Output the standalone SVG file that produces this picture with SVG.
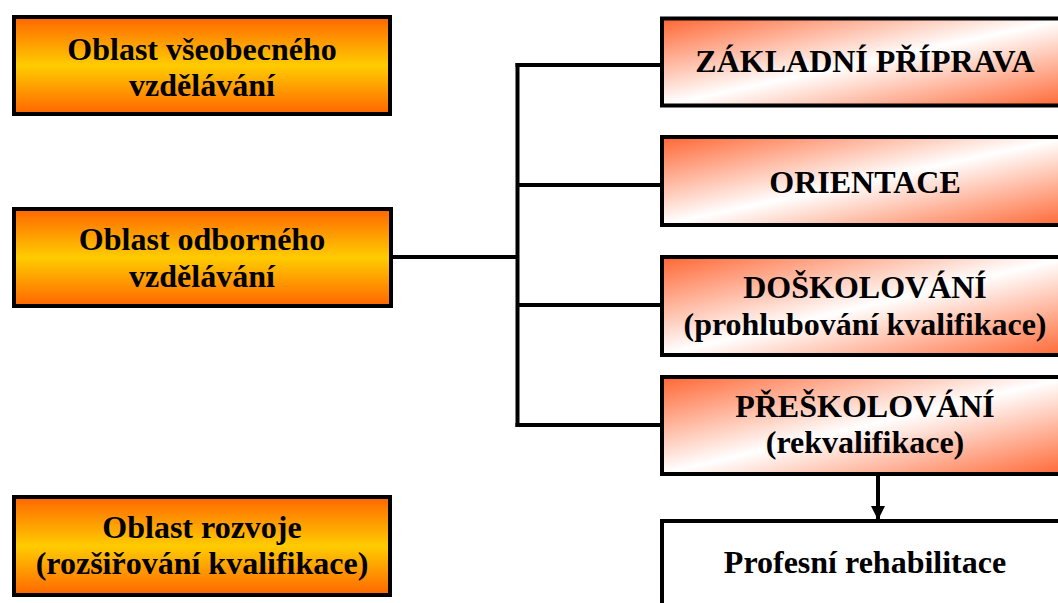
<svg xmlns="http://www.w3.org/2000/svg" width="1058" height="603" viewBox="0 0 1058 603">
<defs>
<linearGradient id="gOrange" x1="0" y1="0" x2="0" y2="1">
<stop offset="0" stop-color="#FF6600"/>
<stop offset="0.5" stop-color="#FFCC00"/>
<stop offset="1" stop-color="#FF6600"/>
</linearGradient>
<linearGradient id="gRed" x1="0" y1="0" x2="1" y2="1">
<stop offset="0" stop-color="#FF6633"/>
<stop offset="0.5" stop-color="#FFFFFF"/>
<stop offset="1" stop-color="#FF6633"/>
</linearGradient>
<marker id="arr" markerWidth="14" markerHeight="14" refX="14" refY="7" orient="auto" markerUnits="userSpaceOnUse" viewBox="0 0 14 14">
<path d="M0,0 L14,7 L0,14 Z" fill="#000"/>
</marker>
</defs>
<style>
.box{stroke:#000;stroke-width:4}
.l{fill:url(#gOrange)}
.r{fill:url(#gRed)}
.w{fill:#fff}
.c{fill:none;stroke:#000;stroke-width:4}
</style>
<rect width="1058" height="603" fill="#fff"/>
<g id="connectors">
<path class="c" d="M517.5,63 V427"/>
<path class="c" d="M515.5,65 H662 M517.5,185 H662 M517.5,305 H662 M515.5,425 H662"/>
<path class="c" d="M391,257 H517.5"/>
<path class="c" d="M878,476 V520" marker-end="url(#arr)"/>
</g>
<g font-family="Liberation Serif" font-weight="bold" font-size="32" text-anchor="middle" fill="#000">
<g id="n1"><rect class="box l" x="14" y="17" width="376" height="97"/>
<text x="202" y="60">Oblast všeobecného</text><text x="202" y="96">vzdělávání</text></g>
<g id="n2"><rect class="box l" x="14" y="209" width="377" height="97"/>
<text x="202" y="250">Oblast odborného</text><text x="202" y="287">vzdělávání</text></g>
<g id="n3"><rect class="box l" x="14" y="497" width="376" height="98"/>
<text x="202" y="538">Oblast rozvoje</text><text x="202" y="574">(rozšiřování kvalifikace)</text></g>
<g id="r1"><rect class="box r" x="662" y="18.5" width="408" height="87"/>
<text x="865" y="72">ZÁKLADNÍ PŘÍPRAVA</text></g>
<g id="r2"><rect class="box r" x="662" y="137" width="408" height="88"/>
<text x="865" y="193">ORIENTACE</text></g>
<g id="r3"><rect class="box r" x="662" y="257" width="408" height="98"/>
<text x="865" y="298">DOŠKOLOVÁNÍ</text><text x="865" y="335">(prohlubování kvalifikace)</text></g>
<g id="r4"><rect class="box r" x="662" y="377" width="408" height="97"/>
<text x="865" y="417">PŘEŠKOLOVÁNÍ</text><text x="865" y="453">(rekvalifikace)</text></g>
<g id="r5"><rect class="box w" x="662" y="521" width="408" height="100"/>
<text x="865" y="573">Profesní rehabilitace</text></g>
</g>
</svg>
